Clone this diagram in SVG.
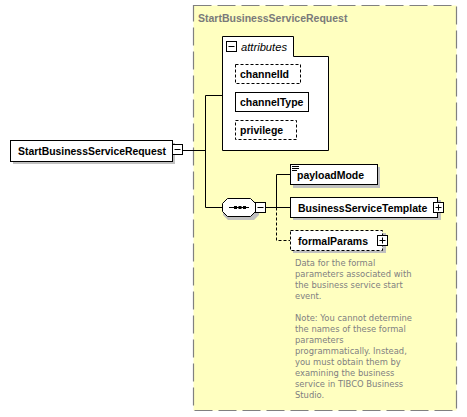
<svg xmlns="http://www.w3.org/2000/svg" width="467" height="417" viewBox="0 0 467 417">
<style>
.box{fill:#fff;stroke:#000;stroke-width:1}
.dbox{fill:#fff;stroke:#000;stroke-width:1;stroke-dasharray:3,2}
.shadow{fill:#c0c0c0}
.lbl{font-family:"Liberation Sans",Arial,sans-serif;font-weight:bold;font-size:10.5px;fill:#000}
.ttl{font-family:"Liberation Sans",Arial,sans-serif;font-weight:bold;font-size:10.5px;fill:#7a7a7a}
.doc{font-family:"DejaVu Sans",Verdana,sans-serif;font-size:8.4px;fill:#808080}
.ln{fill:none;stroke:#000;stroke-width:1}
.dln{fill:none;stroke:#000;stroke-width:1;stroke-dasharray:3,2}
.pm{fill:#fff;stroke:#000;stroke-width:1}
</style>

<g id="outer">
<rect x="193.5" y="5.5" width="263" height="405" fill="#ffffc0" stroke="#808080" stroke-width="1.2" stroke-dasharray="18,6"/>
<text class="ttl" x="198" y="22">StartBusinessServiceRequest</text>
</g>

<g id="connectors">
<path class="ln" d="M183 150.5 H205.5 M205.5 95.5 V207.5 M205.5 95.5 H222 M205.5 207.5 H222"/>
<path class="ln" d="M266 207.5 H290 M276.5 174.5 V207.5 M276.5 174.5 H290"/>
<path class="dln" d="M276.5 207.5 V240.5 H290"/>
</g>

<g id="root">
<rect class="shadow" x="13" y="143" width="162" height="21"/>
<rect class="box" x="10.5" y="140.5" width="162" height="21"/>
<text class="lbl" x="18" y="155" textLength="148" lengthAdjust="spacingAndGlyphs">StartBusinessServiceRequest</text>
<rect class="pm" x="172.5" y="144.5" width="10" height="10"/>
<path class="ln" d="M174.5 149.5 H180.5"/>
</g>

<g id="attributes">
<path fill="#fff" stroke="#000" d="M222.5 150.5 V36.5 H293.5 V56.5 H328.5 V150.5 Z"/>
<rect class="pm" x="226.5" y="41.5" width="10" height="10"/>
<path class="ln" d="M228.5 46.5 H234.5"/>
<text x="241" y="50.5" font-family="'Liberation Sans',Arial,sans-serif" font-style="italic" font-size="10.5px" fill="#000" textLength="46" lengthAdjust="spacingAndGlyphs">attributes</text>
</g>

<g id="channelId">
<rect class="dbox" x="235.5" y="64.5" width="65" height="19"/>
<text class="lbl" x="240" y="78">channelId</text>
</g>
<g id="channelType">
<rect class="box" x="235.5" y="92.5" width="73" height="19"/>
<text class="lbl" x="240" y="106">channelType</text>
</g>
<g id="privilege">
<rect class="dbox" x="235.5" y="120.5" width="61" height="19"/>
<text class="lbl" x="240" y="134">privilege</text>
</g>

<g id="sequence">
<path fill="#c0c0c0" d="M228 201 H254 L259 206 V215 L254 220 H228 L223 215 V206 Z"/>
<path fill="#fff" stroke="#000" d="M227.5 198.5 H250.5 L255.5 203.5 V211.5 L250.5 216.5 H227.5 L222.5 211.5 V203.5 Z"/>
<path class="ln" d="M229 207.5 H249"/>
<rect x="234" y="206" width="3" height="3" fill="#000"/>
<rect x="238.5" y="206" width="3" height="3" fill="#000"/>
<rect x="243" y="206" width="3" height="3" fill="#000"/>
<rect class="pm" x="255.5" y="202.5" width="10" height="10"/>
<path class="ln" d="M257.5 207.5 H263.5"/>
</g>

<g id="payloadMode">
<rect class="shadow" x="293" y="167" width="87" height="21"/>
<rect class="box" x="290.5" y="164.5" width="87" height="20"/>
<path class="ln" d="M292 166.5 H299 M292 168.5 H299 M292 170.5 H297"/>
<text class="lbl" x="297" y="179">payloadMode</text>
</g>

<g id="BusinessServiceTemplate">
<rect class="shadow" x="293" y="200" width="148" height="20"/>
<rect class="box" x="290.5" y="197.5" width="147" height="20"/>
<text class="lbl" x="298" y="212">BusinessServiceTemplate</text>
<rect class="pm" x="433.5" y="202.5" width="10" height="10"/>
<path class="ln" d="M435.5 207.5 H441.5 M438.5 204.5 V210.5"/>
</g>

<g id="formalParams">
<rect class="shadow" x="293" y="233" width="93" height="20"/>
<rect class="dbox" x="290.5" y="230.5" width="92" height="20"/>
<text class="lbl" x="298" y="245">formalParams</text>
<rect class="pm" x="377.5" y="235.5" width="10" height="10"/>
<path class="ln" d="M379.5 240.5 H385.5 M382.5 237.5 V243.5"/>
</g>

<g id="doc">
<text class="doc" x="295" y="266">Data for the formal</text>
<text class="doc" x="295" y="277">parameters associated with</text>
<text class="doc" x="295" y="288">the business service start</text>
<text class="doc" x="295" y="299">event.</text>
<text class="doc" x="295" y="321">Note: You cannot determine</text>
<text class="doc" x="295" y="332">the names of these formal</text>
<text class="doc" x="295" y="343">parameters</text>
<text class="doc" x="295" y="354">programmatically. Instead,</text>
<text class="doc" x="295" y="365">you must obtain them by</text>
<text class="doc" x="295" y="376">examining the business</text>
<text class="doc" x="295" y="387">service in TIBCO Business</text>
<text class="doc" x="295" y="398">Studio.</text>
</g>
</svg>
